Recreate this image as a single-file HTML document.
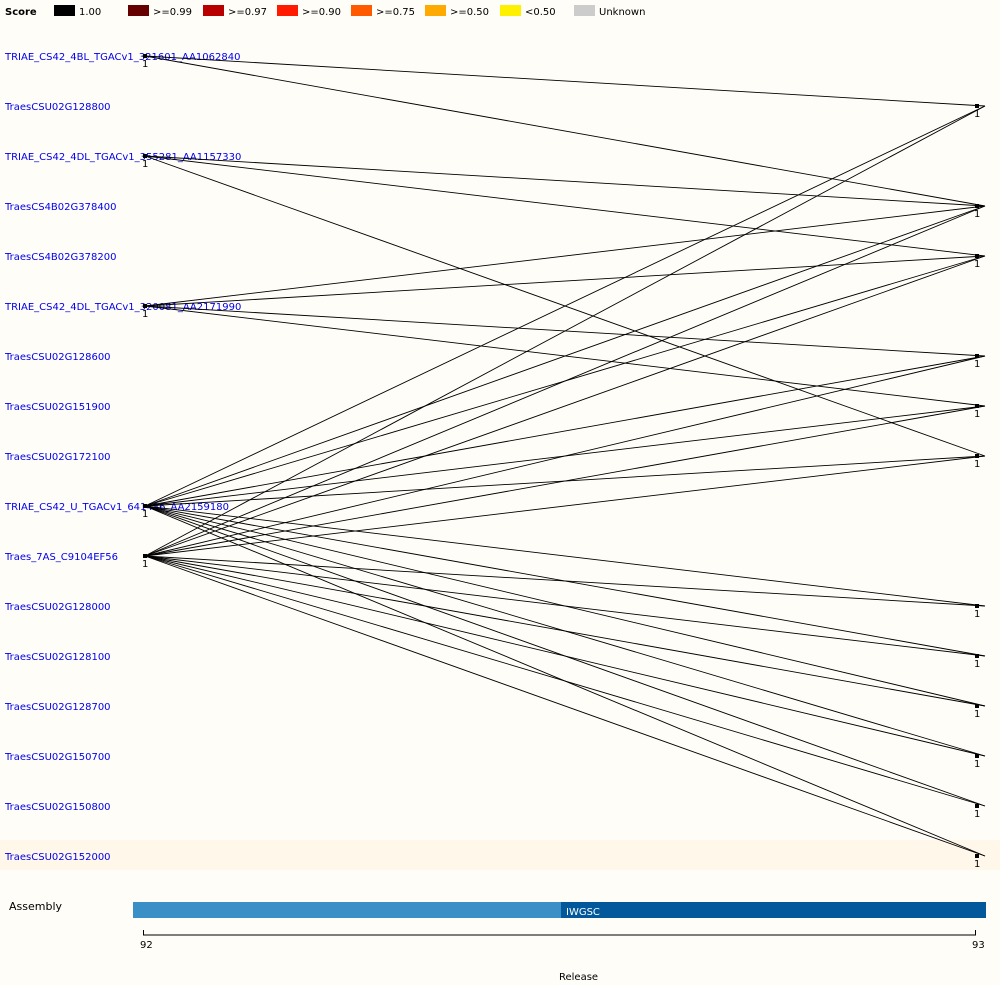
<!DOCTYPE html>
<html><head><meta charset="utf-8"><style>
body{margin:0;background:#fffdf8;}
svg{display:block;font-family:"DejaVu Sans","Liberation Sans",sans-serif;}
</style></head><body>
<svg id="c" width="1000" height="985">
<rect x="0" y="0" width="1000" height="985" fill="#fffdf8"/>
<rect x="0" y="840" width="1000" height="30" fill="#fff8ea"/>
<g id="legend"></g>
<g id="rows"></g>
<g id="edges"></g>
<g id="nodes"></g>
<text x="9" y="910" font-size="11" fill="#000">Assembly</text>
<rect x="133" y="902" width="428" height="16" fill="#3a8fc6"/>
<rect x="561" y="902" width="425" height="16" fill="#02589b"/>
<text x="566" y="915" font-size="10" fill="#fff">IWGSC</text>
<line x1="143" y1="935" x2="976" y2="935" stroke="#000"/>
<line x1="143.5" y1="930" x2="143.5" y2="935" stroke="#000"/>
<line x1="975.5" y1="930" x2="975.5" y2="935" stroke="#000"/>
<text x="140" y="948" font-size="10">92</text>
<text x="972" y="948" font-size="10">93</text>
<text x="559" y="980" font-size="10">Release</text>
</svg>
<script>
const legendLabels=["1.00",">=0.99",">=0.97",">=0.90",">=0.75",">=0.50","<0.50","Unknown"];
const legendColors=["#000000","#660000","#b80000","#ff1a00","#ff5a00","#ffaa00","#fff000","#cccccc"];
const genes=["TRIAE_CS42_4BL_TGACv1_321601_AA1062840","TraesCSU02G128800","TRIAE_CS42_4DL_TGACv1_355281_AA1157330","TraesCS4B02G378400","TraesCS4B02G378200","TRIAE_CS42_4DL_TGACv1_320081_AA2171990","TraesCSU02G128600","TraesCSU02G151900","TraesCSU02G172100","TRIAE_CS42_U_TGACv1_641486_AA2159180","Traes_7AS_C9104EF56","TraesCSU02G128000","TraesCSU02G128100","TraesCSU02G128700","TraesCSU02G150700","TraesCSU02G150800","TraesCSU02G152000"];
const leftNodes=[0,2,5,9,10];
const rightNodes=[1,3,4,6,7,8,11,12,13,14,15,16];
const edgeFrom=[0,0,2,2,2,5,5,5,5, 9,9,9,9,9,9,9,9,9,9,9,9, 10,10,10,10,10,10,10,10,10,10,10,10];
const edgeTo=[1,3,3,4,8,3,4,6,7, 1,3,4,6,7,8,11,12,13,14,15,16, 1,3,4,6,7,8,11,12,13,14,15,16];
const NS="http://www.w3.org/2000/svg";
const yOf=i=>56+50*i, xL=145, xR=977;
function mk(t,a,p){const e=document.createElementNS(NS,t);for(const k in a)e.setAttribute(k,a[k]);p.appendChild(e);return e;}
const lg=document.getElementById('legend');
mk('text',{x:5,y:15,'font-size':10,'font-weight':'bold'},lg).textContent="Score";
const lx=[54,128,203,277,351,425,500,574];
legendLabels.forEach((l,i)=>{
 const r=mk('rect',{x:lx[i],y:5,width:21,height:11,fill:legendColors[i]},lg);
 
 
 const t=mk('text',{x:lx[i]+25,y:15,'font-size':10},lg);t.textContent=l;
 
 
});
const rows=document.getElementById('rows');
genes.forEach((g,i)=>{
 const t=mk('text',{x:5,y:yOf(i)+4,'font-size':10,fill:'#0000ee'},rows);t.textContent=g;
 
 
});
const ed=document.getElementById('edges');
edgeFrom.forEach((f,k)=>{
 const l=mk('line',{x1:xL,y1:yOf(f),x2:xR+8,y2:yOf(edgeTo[k]),stroke:'#000','stroke-width':0.9},ed);
 
 
});
const nd=document.getElementById('nodes');
leftNodes.forEach(i=>{
 const r=mk('rect',{x:xL-2,y:yOf(i)-2,width:4,height:4,fill:'#000'},nd);
 
 
 const t=mk('text',{x:xL-3,y:yOf(i)+11,'font-size':10},nd);t.textContent="1";
 
 
});
rightNodes.forEach(i=>{
 const r=mk('rect',{x:xR-2,y:yOf(i)-2,width:4,height:4,fill:'#000'},nd);
 
 
 const t=mk('text',{x:xR-3,y:yOf(i)+11,'font-size':10},nd);t.textContent="1";
 
 
});
</script>
</body></html>
